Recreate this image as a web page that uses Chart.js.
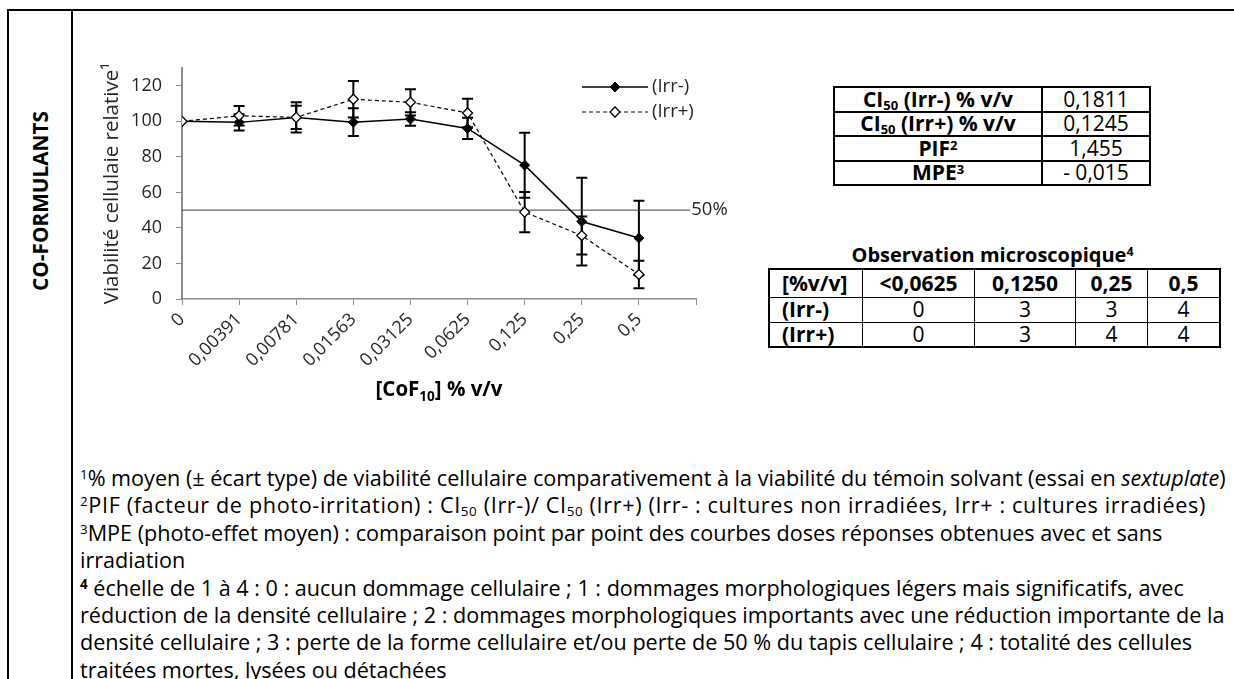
<!DOCTYPE html>
<html lang="fr">
<head>
<meta charset="utf-8">
<script src="https://cdn.jsdelivr.net/npm/chart.js@4.4.0/dist/chart.umd.min.js"></script>
<style>
  html, body { margin: 0; padding: 0; background: #fff; }
  body { width: 1234px; height: 679px; position: relative; overflow: hidden; font-family: "Open Sans", "Noto Sans", sans-serif; color: #000; }
  #cadre { position: absolute; left: 7px; top: 9px; width: 1240px; height: 700px; border-left: 2px solid #000; border-top: 2px solid #000; }
  #sep { position: absolute; left: 71px; top: 9px; width: 2px; height: 700px; background: #000; }
  #rubrique { position: absolute; left: 40px; top: 201px; transform: translate(-50%, -50%) rotate(-90deg); font-weight: bold; font-size: 20.8px; white-space: nowrap; }
  #graphe { position: absolute; left: 75px; top: 40px; }
  table { position: absolute; border-collapse: collapse; font-size: 21px; }
  td { text-align: center; padding: 0; white-space: nowrap; line-height: 1; }
  sub { font-size: 0.62em; vertical-align: -0.25em; line-height: 0; }
  sup { font-size: 0.62em; vertical-align: 0.5em; line-height: 0; }
  #resume { left: 833px; top: 86px; }
  #resume td { border: 2px solid #000; height: 22.5px; }
  #resume td.lib { width: 206px; font-weight: bold; }
  #resume td.val { width: 106px; }
  #titreObs { position: absolute; left: 768px; width: 449px; top: 241px; text-align: center; font-weight: bold; font-size: 20px; }
  #obs { left: 768px; top: 268px; border: 2px solid #000; }
  #obs td { border: 1px solid #000; height: 23.5px; }
  #obs tr:first-child td { font-weight: bold; height: 27px; }
  #obs td:first-child { text-align: left; padding-left: 12px; font-weight: bold; }
  #notes { position: absolute; left: 80px; top: 464px; font-size: 21.6px; line-height: 27.4px; white-space: nowrap; }
  #notes .large { letter-spacing: 0.65px; }
</style>
</head>
<body>
<div id="cadre"></div>
<div id="sep"></div>
<div id="rubrique">CO-FORMULANTS</div>

<canvas id="graphe" width="690" height="385"></canvas>

<table id="resume">
  <tr><td class="lib">CI<sub>50</sub> (Irr-) % v/v</td><td class="val">0,1811</td></tr>
  <tr><td class="lib">CI<sub>50</sub> (Irr+) % v/v</td><td class="val">0,1245</td></tr>
  <tr><td class="lib">PIF<sup>2</sup></td><td class="val">1,455</td></tr>
  <tr><td class="lib">MPE<sup>3</sup></td><td class="val">- 0,015</td></tr>
</table>

<div id="titreObs">Observation microscopique<sup>4</sup></div>
<table id="obs">
  <tr><td style="width:80px">[%v/v]</td><td style="width:111px">&lt;0,0625</td><td style="width:100px">0,1250</td><td style="width:71px">0,25</td><td style="width:71px">0,5</td></tr>
  <tr><td>(Irr-)</td><td>0</td><td>3</td><td>3</td><td>4</td></tr>
  <tr><td>(Irr+)</td><td>0</td><td>3</td><td>4</td><td>4</td></tr>
</table>

<div id="notes">
  <div><sup>1</sup>% moyen (± écart type) de viabilité cellulaire comparativement à la viabilité du témoin solvant (essai en <i>sextuplate</i>)</div>
  <div class="large"><sup>2</sup>PIF (facteur de photo-irritation) : CI<sub>50</sub> (Irr-)/ CI<sub>50</sub> (Irr+) (Irr- : cultures non irradiées, Irr+ : cultures irradiées)</div>
  <div><sup>3</sup>MPE (photo-effet moyen) : comparaison point par point des courbes doses réponses obtenues avec et sans</div>
  <div>irradiation</div>
  <div><sup><b>4</b></sup> échelle de 1 à 4 : 0 : aucun dommage cellulaire ; 1 : dommages morphologiques légers mais significatifs, avec</div>
  <div>réduction de la densité cellulaire ; 2 : dommages morphologiques importants avec une réduction importante de la</div>
  <div>densité cellulaire ; 3 : perte de la forme cellulaire et/ou perte de 50 % du tapis cellulaire ; 4 : totalité des cellules</div>
  <div>traitées mortes, lysées ou détachées</div>
</div>

<script>
// concentrations testées (axe x)
const categories = ['0', '0,00391', '0,00781', '0,01563', '0,03125', '0,0625', '0,125', '0,25', '0,5'];
// viabilité moyenne (%)
const irrMoins = [100, 99.4, 102.2, 99.5, 101.3, 96, 75.3, 43.6, 34.3];
const irrPlus = [100, 103.1, 102.2, 112.4, 110.7, 104.7, 48.9, 35.7, 13.8];
// écarts types
const ecartMoins = [0, 4.6, 6.5, 7.8, 3.8, 6, 18.3, 24.7, 21];
const ecartPlus = [0, 5.5, 8.5, 10.3, 7.4, 8, 11.3, 10.7, 7.7];
const seuil = 50;
const yTicks = [0, 20, 40, 60, 80, 100, 120];

const police = '"Open Sans"';
const texte = '#262626';
const gris = '#8c8c8c';

function points(valeurs) {
    return valeurs.map((v, i) => ({ x: i, y: v }));
}

// barres d'erreur dessinées à partir des écarts
const barresErreur = {
    id: 'barresErreur',
    beforeDatasetsDraw(chart) {
        const ctx = chart.ctx;
        const sx = chart.scales.x, sy = chart.scales.y;
        ctx.save();
        ctx.strokeStyle = '#000';
        ctx.lineWidth = 2;
        chart.data.datasets.forEach(ds => {
            if (!ds.ecarts) return;
            ds.data.forEach((p, i) => {
                const e = ds.ecarts[i];
                if (!e) return;
                const px = sx.getPixelForValue(p.x);
                const haut = sy.getPixelForValue(p.y + e);
                const bas = sy.getPixelForValue(p.y - e);
                ctx.beginPath();
                ctx.moveTo(px, haut); ctx.lineTo(px, bas);
                ctx.moveTo(px - 5.5, haut); ctx.lineTo(px + 5.5, haut);
                ctx.moveTo(px - 5.5, bas); ctx.lineTo(px + 5.5, bas);
                ctx.stroke();
            });
        });
        ctx.restore();
    }
};

// légende, étiquette 50% et titre de l'axe x (avec indice)
const decor = {
    id: 'decor',
    afterDraw(chart) {
        const ctx = chart.ctx;
        const area = chart.chartArea;
        const sx = chart.scales.x, sy = chart.scales.y;
        ctx.save();

        // légende
        chart.data.datasets.forEach((ds, i) => {
            if (!ds.legende) return;
            const y = area.top + 19 + (i - 1) * 25;
            const x0 = area.right - 114, x1 = area.right - 48;
            ctx.beginPath();
            ctx.strokeStyle = '#000';
            ctx.lineWidth = ds.borderWidth;
            ctx.setLineDash(ds.borderDash || []);
            ctx.moveTo(x0, y); ctx.lineTo(x1, y);
            ctx.stroke();
            ctx.setLineDash([]);
            ctx.fillStyle = ds.pointBackgroundColor;
            ctx.strokeStyle = ds.pointBorderColor;
            ctx.lineWidth = ds.pointBorderWidth;
            Chart.helpers.drawPoint(ctx, { pointStyle: 'rectRot', radius: ds.pointRadius, rotation: 0, borderWidth: ds.pointBorderWidth }, (x0 + x1) / 2, y);
            ctx.fillStyle = texte;
            ctx.font = '18.5px ' + police;
            ctx.textAlign = 'left';
            ctx.textBaseline = 'middle';
            ctx.fillText(ds.label, x1 + 4, y);
        });

        // étiquette du seuil
        const ligne = chart.data.datasets.find(ds => ds.seuil);
        const fin = ligne.data[ligne.data.length - 1];
        ctx.fillStyle = texte;
        ctx.font = '18.5px ' + police;
        ctx.textAlign = 'left';
        ctx.textBaseline = 'middle';
        ctx.fillText(seuil + '%', sx.getPixelForValue(fin.x) + 1, sy.getPixelForValue(fin.y));

        // titre de l'axe x
        const parts = [
            { t: '[CoF', f: 'bold 20.5px ' + police, dy: 0 },
            { t: '10', f: 'bold 13.5px ' + police, dy: 5 },
            { t: '] % v/v', f: 'bold 20.5px ' + police, dy: 0 }
        ];
        let largeur = 0;
        parts.forEach(p => { ctx.font = p.f; p.w = ctx.measureText(p.t).width; largeur += p.w; });
        let x = (area.left + area.right) / 2 - largeur / 2;
        const yt = area.bottom + 97;
        ctx.fillStyle = '#000';
        ctx.textBaseline = 'alphabetic';
        parts.forEach(p => { ctx.font = p.f; ctx.fillText(p.t, x, yt + p.dy); x += p.w; });
        ctx.restore();
    }
};

new Chart(document.getElementById('graphe'), {
    type: 'scatter',
    data: {
        datasets: [
            {
                label: '',
                seuil: true,
                data: [{ x: 0, y: seuil }, { x: categories.length - 0.1, y: seuil }],
                showLine: true,
                borderColor: '#404040',
                borderWidth: 1,
                pointRadius: 0,
                order: 3
            },
            {
                label: '(Irr-)',
                legende: true,
                data: points(irrMoins),
                ecarts: ecartMoins,
                showLine: true,
                borderColor: '#000',
                borderWidth: 1.5,
                pointStyle: 'rectRot',
                pointRadius: 5,
                pointBackgroundColor: '#000',
                pointBorderColor: '#000',
                pointBorderWidth: 1,
                order: 2
            },
            {
                label: '(Irr+)',
                legende: true,
                data: points(irrPlus),
                ecarts: ecartPlus,
                showLine: true,
                borderColor: '#000',
                borderWidth: 1.2,
                borderDash: [4, 3],
                pointStyle: 'rectRot',
                pointRadius: 5,
                pointBackgroundColor: '#fff',
                pointBorderColor: '#000',
                pointBorderWidth: 1.3,
                order: 1
            }
        ]
    },
    options: {
        responsive: false,
        animation: false,
        devicePixelRatio: 1,
        layout: { padding: { left: 21, top: 28, right: 69, bottom: 0 } },
        plugins: {
            legend: { display: false },
            tooltip: { enabled: false }
        },
        scales: {
            x: {
                type: 'linear',
                min: 0,
                max: categories.length,
                afterBuildTicks: s => {
                    s.ticks = categories.map((c, i) => ({ value: i })).concat([{ value: categories.length }]);
                },
                afterFit: s => { s.height = 126; },
                ticks: {
                    autoSkip: false,
                    minRotation: 45,
                    maxRotation: 45,
                    padding: 4,
                    color: texte,
                    font: { family: 'Open Sans', size: 18 },
                    callback: (v, i) => categories[i] || ''
                },
                grid: { drawOnChartArea: false, tickLength: 6, color: gris },
                border: { color: gris, width: 1.5 }
            },
            y: {
                min: 0,
                max: 130,
                afterBuildTicks: s => {
                    s.ticks = yTicks.map(v => ({ value: v }));
                },
                afterFit: s => { s.width = 86; },
                ticks: {
                    padding: 14,
                    color: texte,
                    font: { family: 'Open Sans', size: 18 }
                },
                grid: { drawOnChartArea: false, tickLength: 6, color: gris },
                border: { color: gris, width: 2 },
                title: {
                    display: true,
                    text: 'Viabilité cellulaie relative¹',
                    color: texte,
                    font: { family: 'Open Sans', size: 20.5 },
                    padding: { top: 4, bottom: 4 }
                }
            }
        }
    },
    plugins: [barresErreur, decor]
});
</script>
</body>
</html>
